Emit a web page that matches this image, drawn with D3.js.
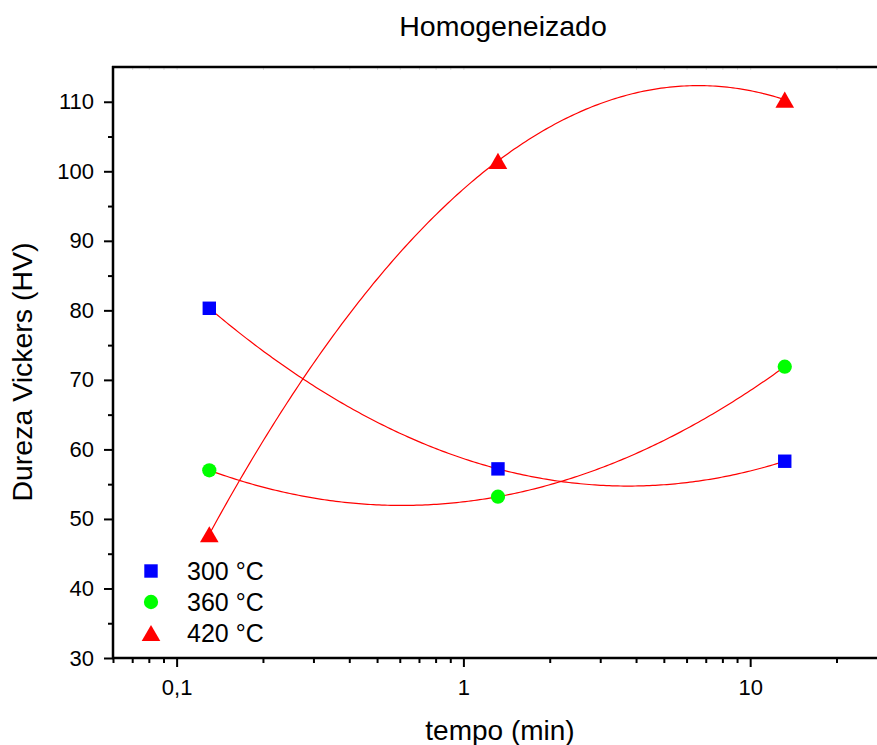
<!DOCTYPE html>
<html>
<head>
<meta charset="utf-8">
<script src="https://cdn.jsdelivr.net/npm/d3@7"></script>
<style>
  html, body { margin: 0; padding: 0; background: #fff; }
  svg { display: block; font-family: "Liberation Sans", Arial, sans-serif; }
</style>
</head>
<body>
<svg id="chart" width="877" height="745"></svg>
<script>
// Annealing time (min) for each measurement
const times = [0.13, 1.32, 13.2];
// Vickers hardness per annealing temperature
const hv300 = [80.3, 57.2, 58.3];
const hv360 = [57.0, 53.2, 71.9];
const hv420 = [47.8, 101.5, 110.3];
const seriesNames = ["300 °C", "360 °C", "420 °C"];
const xTickValues = [0.1, 1, 10];
const xTickLabels = ["0,1", "1", "10"];
const yTickValues = [30, 40, 50, 60, 70, 80, 90, 100, 110];

// triangles are shifted so their bounding box (not centroid) sits on the point
const triShift = s => Math.sqrt(s / (Math.sqrt(3) * 3)) / 2;

const series = [
  { name: seriesNames[0], values: hv300, color: "#0000ff", symbol: d3.symbolSquare, size: 180, dy: 0 },
  { name: seriesNames[1], values: hv360, color: "#00ff00", symbol: d3.symbolCircle, size: 160, dy: 0 },
  { name: seriesNames[2], values: hv420, color: "#ff0000", symbol: d3.symbolTriangle, size: 150, dy: triShift(150) }
];

const svg = d3.select("#chart");
const plotL = 113, plotR = 887, plotT = 67, plotB = 658;

const x = d3.scaleLog().domain([0.06, 30]).range([plotL, plotR]);
const y = d3.scaleLinear().domain([30, 115]).range([plotB, plotT]);

// minor ticks for the log axis: 2..9 within each decade
const xMinor = [];
for (let e = -2; e <= 1; e++) {
  for (let m = 2; m <= 9; m++) {
    const v = m * Math.pow(10, e);
    if (v >= 0.06 && v <= 30) xMinor.push(v);
  }
}
const yMinor = d3.range(35, 115, 10);

// ---- axes ----
const gx = svg.append("g").attr("transform", `translate(0,${plotB})`);
gx.call(d3.axisBottom(x).tickValues(xMinor).tickSize(5).tickFormat(""))
  .call(g => g.select(".domain").remove());
const gxMajor = svg.append("g").attr("transform", `translate(0,${plotB})`);
gxMajor.call(d3.axisBottom(x).tickValues(xTickValues).tickSize(9).tickPadding(12)
    .tickFormat((d, i) => xTickLabels[i]))
  .call(g => g.select(".domain").remove());
svg.selectAll("g line").attr("stroke", "#000").attr("stroke-width", 2);
gxMajor.selectAll("text").attr("font-size", 22).attr("fill", "#000")
  .attr("font-family", "Liberation Sans, Arial, sans-serif");

const gy = svg.append("g").attr("transform", `translate(${plotL},0)`);
gy.call(d3.axisLeft(y).tickValues(yMinor).tickSize(5).tickFormat(""))
  .call(g => g.select(".domain").remove());
const gyMajor = svg.append("g").attr("transform", `translate(${plotL},0)`);
gyMajor.call(d3.axisLeft(y).tickValues(yTickValues).tickSize(9).tickPadding(10))
  .call(g => g.select(".domain").remove());
gy.selectAll("line").attr("stroke", "#000").attr("stroke-width", 2);
gyMajor.selectAll("line").attr("stroke", "#000").attr("stroke-width", 2);
gyMajor.selectAll("text").attr("font-size", 22).attr("fill", "#000")
  .attr("font-family", "Liberation Sans, Arial, sans-serif");

// faint inward ticks on the top edge
const gt = svg.append("g").attr("transform", `translate(0,${plotT})`);
gt.call(d3.axisTop(x).tickValues(xMinor.concat(xTickValues)).tickSize(-3).tickFormat(""))
  .call(g => g.select(".domain").remove());
gt.selectAll("line").attr("stroke", "#ddd").attr("stroke-width", 1);

// frame lines (left, bottom, top)
svg.append("line").attr("x1", plotL).attr("x2", plotL).attr("y1", plotT - 1).attr("y2", plotB + 1)
  .attr("stroke", "#000").attr("stroke-width", 2.5);
svg.append("line").attr("x1", plotL - 1).attr("x2", plotR).attr("y1", plotB).attr("y2", plotB)
  .attr("stroke", "#000").attr("stroke-width", 2.5);
svg.append("line").attr("x1", plotL - 1).attr("x2", plotR).attr("y1", plotT).attr("y2", plotT)
  .attr("stroke", "#000").attr("stroke-width", 2.5);

// ---- fitted curves: quadratic through the three points in log(time) ----
const lx = times.map(t => Math.log10(t));
function quad(vals) {
  return u => {
    let s = 0;
    for (let i = 0; i < 3; i++) {
      let p = vals[i];
      for (let j = 0; j < 3; j++) if (j !== i) p *= (u - lx[j]) / (lx[i] - lx[j]);
      s += p;
    }
    return s;
  };
}
const line = d3.line().x(d => x(d[0])).y(d => y(d[1]));
series.forEach(s => {
  const f = quad(s.values);
  const pts = d3.range(0, 201).map(k => {
    const u = lx[0] + (lx[2] - lx[0]) * k / 200;
    return [Math.pow(10, u), f(u)];
  });
  svg.append("path").datum(pts).attr("d", line)
    .attr("fill", "none").attr("stroke", "#ff0000").attr("stroke-width", 1.2);
});

// ---- markers ----
series.forEach(s => {
  svg.append("g").selectAll("path").data(s.values).join("path")
    .attr("d", d3.symbol().type(s.symbol).size(s.size))
    .attr("transform", (d, i) => `translate(${x(times[i])},${y(d) + s.dy})`)
    .attr("fill", s.color);
});

// ---- legend ----
const lg = svg.append("g").attr("transform", "translate(151,571)");
series.forEach((s, i) => {
  const row = lg.append("g").attr("transform", `translate(0,${i * 31})`);
  row.append("path").attr("d", d3.symbol().type(s.symbol).size(s.size))
    .attr("transform", `translate(0,${s.dy})`).attr("fill", s.color);
  row.append("text").attr("x", 36).attr("y", 9).attr("font-size", 25).attr("fill", "#000")
    .text(s.name);
});

// ---- titles ----
svg.append("text").attr("x", 503).attr("y", 36).attr("text-anchor", "middle")
  .attr("font-size", 28.5).attr("fill", "#000").text("Homogeneizado");
svg.append("text").attr("x", 500).attr("y", 740).attr("text-anchor", "middle")
  .attr("font-size", 28).attr("fill", "#000").text("tempo (min)");
svg.append("text").attr("transform", "translate(32,372) rotate(-90)").attr("text-anchor", "middle")
  .attr("font-size", 28.5).attr("fill", "#000").text("Dureza Vickers (HV)");
</script>
</body>
</html>
